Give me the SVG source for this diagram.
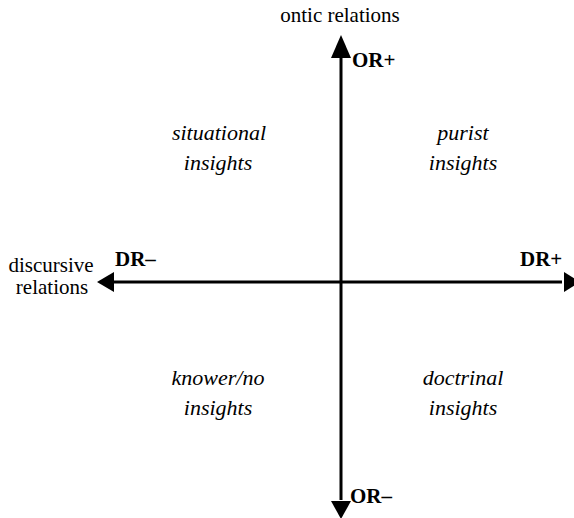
<svg xmlns="http://www.w3.org/2000/svg" width="574" height="518" viewBox="0 0 574 518" font-family="Liberation Serif, 'Times New Roman', 'DejaVu Serif', serif" font-size="21">
<style>
text{fill:#000}
.b{font-weight:bold}
.i{font-style:italic;font-size:22px}
.ax{stroke:#000;stroke-width:3;fill:none}
.hd{fill:#000}
</style>
<rect width="574" height="518" fill="#fff"/>
<g id="connectors">
<line class="ax" x1="341" y1="55" x2="341" y2="500"/>
<line class="ax" x1="112" y1="282" x2="562" y2="282"/>
<polygon class="hd" points="341,35 331,58 351,58"/>
<polygon class="hd" points="341,519 331,501 351,501"/>
<polygon class="hd" points="97,282 114,272 114,292"/>
<polygon class="hd" points="580,282 564,272 564,292"/>
</g>
<g id="ontic"><text x="340" y="22" text-anchor="middle">ontic relations</text></g>
<g id="orplus"><text class="b" x="352" y="67">OR+</text></g>
<g id="orminus"><text class="b" x="350" y="503">OR–</text></g>
<g id="discursive"><text x="51" y="272" text-anchor="middle">discursive</text><text x="52" y="294" text-anchor="middle">relations</text></g>
<g id="drminus"><text class="b" x="115" y="266">DR–</text></g>
<g id="drplus"><text class="b" x="520" y="266">DR+</text></g>
<g id="situational"><text class="i" x="219" y="140" text-anchor="middle">situational</text><text class="i" x="218" y="170" text-anchor="middle">insights</text></g>
<g id="purist"><text class="i" x="463" y="140" text-anchor="middle">purist</text><text class="i" x="463" y="170" text-anchor="middle">insights</text></g>
<g id="knower"><text class="i" x="218" y="385" text-anchor="middle">knower/no</text><text class="i" x="218" y="415" text-anchor="middle">insights</text></g>
<g id="doctrinal"><text class="i" x="463" y="385" text-anchor="middle">doctrinal</text><text class="i" x="463" y="415" text-anchor="middle">insights</text></g>
</svg>
